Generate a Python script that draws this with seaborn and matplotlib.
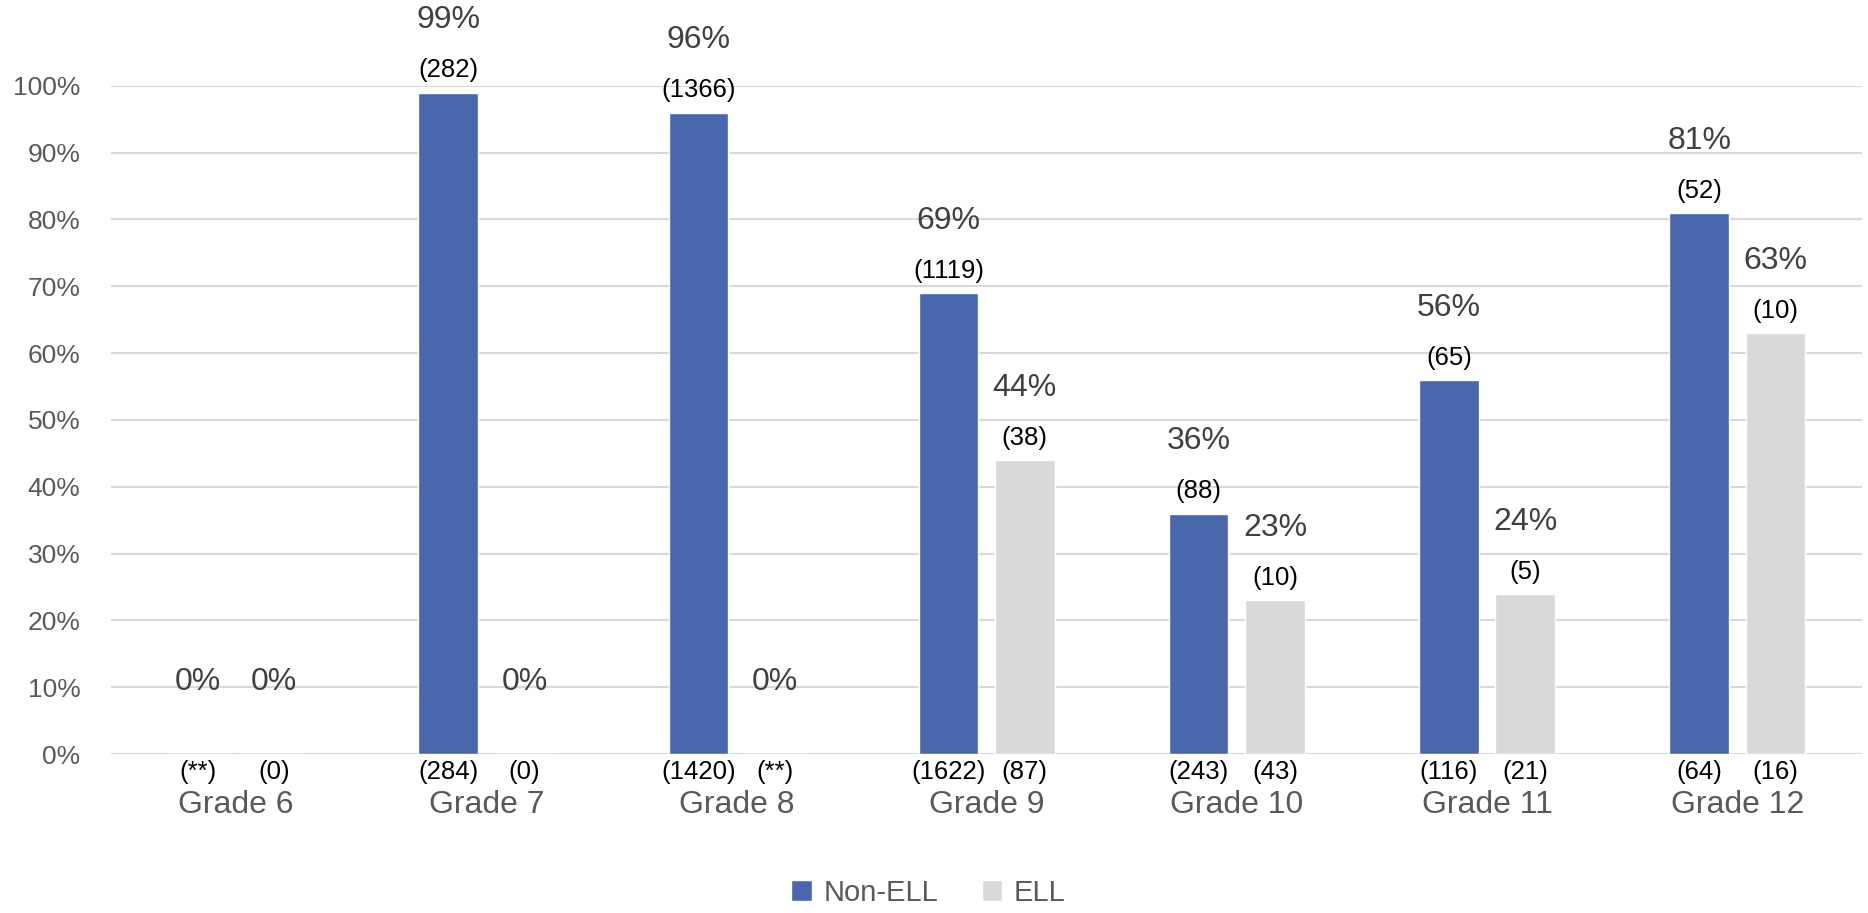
import matplotlib
matplotlib.use("Agg")
import matplotlib.pyplot as plt
import seaborn as sns
import pandas as pd
from matplotlib.ticker import FuncFormatter

grades = ["Grade 6", "Grade 7", "Grade 8", "Grade 9", "Grade 10", "Grade 11", "Grade 12"]
groups = ["Non-ELL", "ELL"]
non_ell_pct = [0, 99, 96, 69, 36, 56, 81]
ell_pct = [0, 0, 0, 44, 23, 24, 63]
non_ell_num = [None, "282", "1366", "1119", "88", "65", "52"]
ell_num = [None, None, None, "38", "10", "5", "10"]
non_ell_den = ["**", "284", "1420", "1622", "243", "116", "64"]
ell_den = ["0", "0", "**", "87", "43", "21", "16"]

sns.set_theme(style="white")
plt.rcParams['font.family'] = ["Liberation Sans", "DejaVu Sans"]

df = pd.DataFrame({
    "grade": grades * 2,
    "group": ["Non-ELL"] * len(grades) + ["ELL"] * len(grades),
    "pct": non_ell_pct + ell_pct,
})

fig = plt.figure(figsize=(18.68, 9.13), dpi=100)
ax = fig.add_axes([0.0594, 0.174, 0.9376, 0.732])
sns.barplot(data=df, x="grade", y="pct", hue="group", order=grades, hue_order=groups,
            palette=["#4967AD", "#D9D9D9"], saturation=1, width=0.61, gap=0.22, ax=ax, legend=True)

ax.set_ylim(0, 100)
ax.set_xlim(-0.5, len(grades) - 0.5)
ax.set_yticks(range(0, 101, 10))
ax.yaxis.set_major_formatter(FuncFormatter(lambda v, p: f"{int(v)}%"))
ax.grid(axis="y", color="#D9D9D9", linewidth=1.5)
ax.set_axisbelow(True)
for s in ax.spines.values():
    s.set_visible(False)
ax.set_xlabel("")
ax.set_ylabel("")
ax.tick_params(axis="y", labelsize=19, labelcolor="#595959", length=0, pad=22)
ax.tick_params(axis="x", labelsize=23, labelcolor="#595959", length=0, pad=26)

nums = [non_ell_num, ell_num]
dens = [non_ell_den, ell_den]
for k, cont in enumerate(ax.containers):
    for i, bar in enumerate(cont):
        x = bar.get_x() + bar.get_width() / 2
        h = bar.get_height()
        ax.annotate(f"{int(round(h))}%", (x, h), xytext=(0, 52), textcoords="offset points",
                    ha="center", va="center", fontsize=23, color="#404040", annotation_clip=False)
        if nums[k][i] is not None:
            ax.annotate(f"({nums[k][i]})", (x, h), xytext=(0, 16), textcoords="offset points",
                        ha="center", va="center", fontsize=18.5, color="black", annotation_clip=False)
        ax.annotate(f"({dens[k][i]})", (x, 0), xytext=(0, -13), textcoords="offset points",
                    ha="center", va="center", fontsize=18.5, color="black", annotation_clip=False)

handles, labels = ax.get_legend_handles_labels()
ax.legend_.remove()
fig.legend(handles, labels, loc="center", bbox_to_anchor=(0.497, 0.022), ncol=2, frameon=False,
           fontsize=21, handlelength=0.7, handleheight=0.7, handletextpad=0.4, columnspacing=1.5,
           labelcolor="#595959")

fig.savefig("out.png", dpi=100)
